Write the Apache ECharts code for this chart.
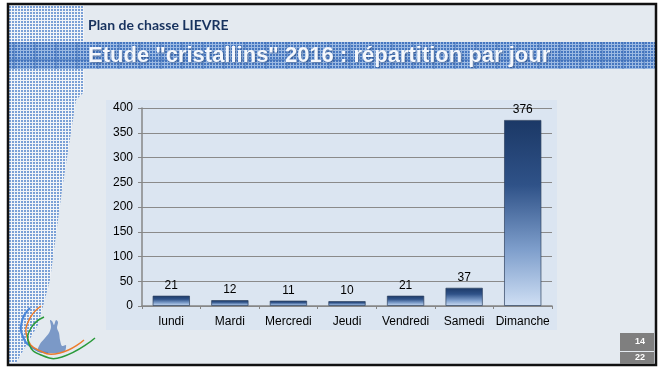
<!DOCTYPE html>
<html>
<head>
<meta charset="utf-8">
<script src="https://cdn.jsdelivr.net/npm/echarts@6/dist/echarts.min.js"></script>
<style>
  html, body { margin: 0; padding: 0; background: #ffffff; }
  #chart { width: 667px; height: 369px; }
</style>
</head>
<body>
<div id="chart"></div>
<script>
// Hares taken per day of the week (2016 "cristallins" study)
const days = ['lundi', 'Mardi', 'Mercredi', 'Jeudi', 'Vendredi', 'Samedi', 'Dimanche'];
const counts = [21, 12, 11, 10, 21, 37, 376];
const yTicks = [0, 50, 100, 150, 200, 250, 300, 350, 400];

const slideTitle = 'Plan de chasse LIEVRE';
const bannerTitle = 'Etude "cristallins" 2016 : répartition par jour';
const pageNumbers = ['14', '22'];

// Small repeating dot patterns used for the slide decoration
function dotPattern(bg, dot, size, dotSize) {
  const c = document.createElement('canvas');
  c.width = size; c.height = size;
  const ctx = c.getContext('2d');
  ctx.fillStyle = bg; ctx.fillRect(0, 0, size, size);
  ctx.fillStyle = dot; ctx.fillRect(0, 0, dotSize, dotSize);
  return { image: c, repeat: 'repeat' };
}
const sidePattern = dotPattern('#f1f4f8', '#7aa0d6', 3, 2);
const bannerPattern = dotPattern('#9bb9e2', '#4677c0', 3, 2);

const chart = echarts.init(document.getElementById('chart'), null, { renderer: 'canvas' });

// Decorative slide elements
const graphics = [];
// slide background inside the frame
graphics.push({ type: 'rect', shape: { x: 8, y: 4, width: 648, height: 361 }, style: { fill: '#e4eaf0' }, z: -10 });
// dotted side band
graphics.push({
  type: 'polygon', z: -9,
  shape: { points: [[9, 4], [84, 4], [84, 92], [76, 100], [62, 190], [50, 280], [38, 325], [16, 363], [9, 363]] },
  style: { fill: sidePattern }
});
// banner stripe
graphics.push({ type: 'rect', z: -8, shape: { x: 8, y: 42, width: 648, height: 27 }, style: { fill: bannerPattern } });
graphics.push({ type: 'line', z: -7, shape: { x1: 8, y1: 60, x2: 656, y2: 60 }, style: { stroke: '#3f6fb5', lineWidth: 1 } });
for (let x = 14; x < 656; x += 21) {
  graphics.push({ type: 'line', z: -7, shape: { x1: x, y1: 42, x2: x, y2: 69 }, style: { stroke: '#3f6fb5', lineWidth: 1, opacity: 0.8 } });
}
// chart panel
graphics.push({ type: 'rect', z: -6, shape: { x: 106, y: 100, width: 451, height: 230 }, style: { fill: '#dbe5f1' } });
// titles
graphics.push({
  type: 'text', z: 5, left: 88, top: 18,
  style: { text: slideTitle, fill: '#17325e', font: 'bold 14px Lato, "Open Sans", sans-serif' }
});
graphics.push({
  type: 'text', z: 5, left: 88, top: 45,
  style: {
    text: bannerTitle, fill: '#f4f7fc', font: 'bold 22px "Liberation Sans", Arial, sans-serif',
    textShadowColor: 'rgba(30,60,110,0.6)', textShadowBlur: 2, textShadowOffsetX: 1, textShadowOffsetY: 1
  }
});
// frame
graphics.push({ type: 'rect', z: 6, shape: { x: 8, y: 4, width: 648, height: 361 }, style: { fill: 'none', stroke: '#111111', lineWidth: 2.5 } });
// page number boxes
graphics.push({ type: 'rect', z: 7, shape: { x: 620, y: 333, width: 34, height: 18 }, style: { fill: '#7f7f7f' } });
graphics.push({ type: 'rect', z: 7, shape: { x: 620, y: 352, width: 34, height: 12 }, style: { fill: '#7f7f7f' } });
graphics.push({ type: 'text', z: 8, x: 645, y: 342, style: { text: pageNumbers[0], fill: '#ffffff', font: 'bold 9px "Liberation Sans", Arial', align: 'right', verticalAlign: 'middle' } });
graphics.push({ type: 'text', z: 8, x: 645, y: 358, style: { text: pageNumbers[1], fill: '#ffffff', font: 'bold 9px "Liberation Sans", Arial', align: 'right', verticalAlign: 'middle' } });
// logo: arcs and hare silhouette
graphics.push({ type: 'polyline', z: 3, shape: { points: [[30, 308], [22, 321], [23, 337], [33, 348], [48, 353]], smooth: 0.5 }, style: { stroke: '#4a86d8', lineWidth: 2, fill: 'none' } });
graphics.push({ type: 'polyline', z: 3, shape: { points: [[41, 306], [29, 320], [27, 337], [38, 350], [60, 353], [84, 340]], smooth: 0.5 }, style: { stroke: '#ec7c2c', lineWidth: 1.5, fill: 'none' } });
graphics.push({ type: 'polyline', z: 3, shape: { points: [[44, 317], [31, 328], [29, 344], [41, 355], [62, 357], [95, 338]], smooth: 0.5 }, style: { stroke: '#2a9a3a', lineWidth: 1.5, fill: 'none' } });
graphics.push({
  type: 'polygon', z: 2,
  shape: {
    points: [[38, 352], [40, 344], [45, 338], [49, 333], [51, 327], [50, 320], [52, 321], [54, 325], [56, 320], [58, 322], [57, 328], [59, 333], [60, 340], [62, 346], [66, 345], [64, 352]],
    smooth: 0.3
  },
  style: { fill: '#6f90c2', opacity: 0.9 }
});

chart.setOption({
  animation: false,
  backgroundColor: 'transparent',
  graphic: graphics,
  grid: { left: 142, right: 115, top: 108, bottom: 63, containLabel: false },
  xAxis: {
    type: 'category',
    data: days,
    axisLine: { lineStyle: { color: '#868686', width: 1.5 } },
    axisTick: { show: true, length: 3, lineStyle: { color: '#868686' } },
    axisLabel: { interval: 0, color: '#000000', fontSize: 12, fontFamily: '"Liberation Sans", Arial, sans-serif', margin: 10 }
  },
  yAxis: {
    type: 'value',
    min: yTicks[0],
    max: yTicks[yTicks.length - 1],
    interval: yTicks[1] - yTicks[0],
    axisLine: { show: true, lineStyle: { color: '#868686', width: 1.5 } },
    axisTick: { show: true, length: 4, lineStyle: { color: '#868686' } },
    axisLabel: { color: '#000000', fontSize: 12, fontFamily: '"Liberation Sans", Arial, sans-serif', margin: 9 },
    splitLine: { lineStyle: { color: '#8a8a8a', width: 1.2 } }
  },
  series: [{
    type: 'bar',
    data: counts,
    barCategoryGap: '36%',
    itemStyle: {
      color: new echarts.graphic.LinearGradient(0, 0, 0, 1, [
        { offset: 0, color: '#1b3866' },
        { offset: 0.35, color: '#2f5288' },
        { offset: 0.7, color: '#7f9fcc' },
        { offset: 1, color: '#cfdff4' }
      ]),
      borderColor: 'rgba(45,65,95,0.7)',
      borderWidth: 1
    },
    label: {
      show: true, position: 'top', distance: 4,
      color: '#000000', fontSize: 12, fontFamily: '"Liberation Sans", Arial, sans-serif'
    }
  }]
});
</script>
</body>
</html>
